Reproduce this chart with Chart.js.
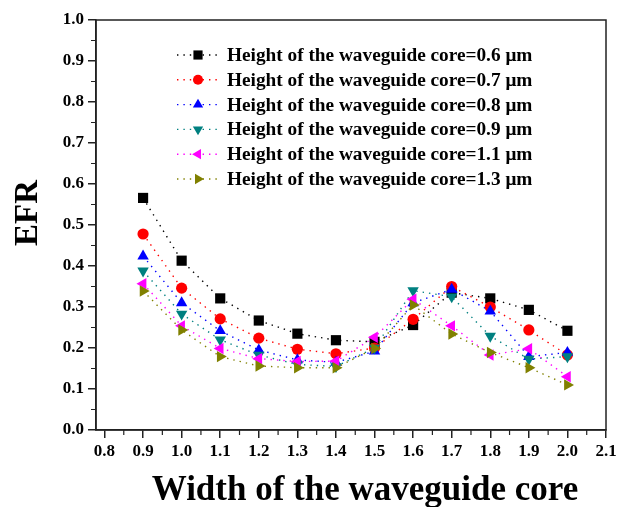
<!DOCTYPE html>
<html>
<head>
<meta charset="utf-8">
<script src="https://cdn.jsdelivr.net/npm/chart.js@4"></script>
<style>
  html, body { margin: 0; padding: 0; background: #fff; }
  #wrap { width: 622px; height: 507px; }
</style>
</head>
<body>
<div id="wrap"><canvas id="efrChart" width="622" height="507"></canvas></div>
<script>
// waveguide core width (x)
const widths = [0.9, 1.0, 1.1, 1.2, 1.3, 1.4, 1.5, 1.6, 1.7, 1.8, 1.9, 2.0];

// EFR for each core height
const h06 = [0.566, 0.413, 0.321, 0.267, 0.235, 0.219, 0.215, 0.256, 0.335, 0.321, 0.293, 0.242];
const h07 = [0.478, 0.346, 0.271, 0.224, 0.197, 0.186, 0.200, 0.270, 0.350, 0.300, 0.244, 0.183];
const h08 = [0.424, 0.310, 0.242, 0.195, 0.171, 0.165, 0.192, 0.310, 0.343, 0.290, 0.179, 0.189];
const h09 = [0.388, 0.283, 0.220, 0.183, 0.160, 0.155, 0.200, 0.340, 0.325, 0.229, 0.173, 0.179];
const h11 = [0.357, 0.254, 0.199, 0.174, 0.167, 0.168, 0.226, 0.319, 0.254, 0.183, 0.198, 0.130];
const h13 = [0.339, 0.244, 0.179, 0.156, 0.152, 0.152, 0.199, 0.305, 0.234, 0.189, 0.152, 0.110];

const seriesLabels = [
  'Height of the waveguide core=0.6 \u03bcm',
  'Height of the waveguide core=0.7 \u03bcm',
  'Height of the waveguide core=0.8 \u03bcm',
  'Height of the waveguide core=0.9 \u03bcm',
  'Height of the waveguide core=1.1 \u03bcm',
  'Height of the waveguide core=1.3 \u03bcm'
];

const xTicks = [0.8, 0.9, 1.0, 1.1, 1.2, 1.3, 1.4, 1.5, 1.6, 1.7, 1.8, 1.9, 2.0, 2.1];
const yTicks = [0.0, 0.1, 0.2, 0.3, 0.4, 0.5, 0.6, 0.7, 0.8, 0.9, 1.0];

const xTitle = 'Width of the waveguide core';
const yTitle = 'EFR';

const serif = '"Liberation Serif", "Times New Roman", serif';

// marker look per series
const styles = [
  { color: '#000000', shape: 'rect',     rot: 0,   r: 7.2 },
  { color: '#ff0000', shape: 'circle',   rot: 0,   r: 5.6 },
  { color: '#0000ff', shape: 'triangle', rot: 0,   r: 6.6 },
  { color: '#008080', shape: 'triangle', rot: 180, r: 6.6 },
  { color: '#ff00ff', shape: 'triangle', rot: 270, r: 6.6 },
  { color: '#808000', shape: 'triangle', rot: 90,  r: 6.6 }
];

const allSeries = [h06, h07, h08, h09, h11, h13];

const datasets = allSeries.map((vals, i) => ({
  label: seriesLabels[i],
  data: widths.map((w, j) => ({ x: w, y: vals[j] })),
  borderColor: styles[i].color,
  backgroundColor: styles[i].color,
  borderWidth: 1.4,
  borderDash: [1.4, 5],
  pointStyle: styles[i].shape,
  pointRotation: styles[i].rot,
  pointRadius: styles[i].r,
  pointBorderWidth: 0,
  tension: 0,
  order: -i   // later series drawn on top
}));

// box frame, minor ticks and the two axis titles
const framePlugin = {
  id: 'frame',
  afterDraw(chart) {
    const { ctx, chartArea: a, scales: { x, y } } = chart;
    ctx.save();
    ctx.strokeStyle = '#222';
    ctx.lineWidth = 1.5;
    ctx.strokeRect(a.left, a.top, a.right - a.left, a.bottom - a.top);

    ctx.lineWidth = 1.2;
    ctx.beginPath();
    for (let i = 0; i < xTicks.length - 1; i++) {
      const px = x.getPixelForValue((xTicks[i] + xTicks[i + 1]) / 2);
      ctx.moveTo(px, a.bottom);
      ctx.lineTo(px, a.bottom + 5);
    }
    for (let i = 0; i < yTicks.length - 1; i++) {
      const py = y.getPixelForValue((yTicks[i] + yTicks[i + 1]) / 2);
      ctx.moveTo(a.left, py);
      ctx.lineTo(a.left - 5, py);
    }
    ctx.stroke();

    ctx.fillStyle = '#000';
    ctx.textAlign = 'center';
    ctx.textBaseline = 'middle';
    ctx.font = 'bold 35px ' + serif;
    ctx.fillText(xTitle, 365, 491);

    ctx.translate(28, 213);
    ctx.rotate(-Math.PI / 2);
    ctx.font = 'bold 33px ' + serif;
    ctx.fillText(yTitle, 0, 0);
    ctx.restore();
  }
};

// legend drawn inside the plot, dotted sample with marker in the middle
const legendPlugin = {
  id: 'innerLegend',
  afterDatasetsDraw(chart) {
    const ctx = chart.ctx;
    const x0 = 177, x1 = 221, mx = 198, tx = 227;
    const top = 55, step = 24.8;
    ctx.save();
    chart.data.datasets.forEach((ds, i) => {
      const yy = top + i * step;
      ctx.strokeStyle = ds.borderColor;
      ctx.lineWidth = 1.4;
      ctx.setLineDash([1.4, 5]);
      ctx.beginPath();
      ctx.moveTo(x0, yy);
      ctx.lineTo(x1, yy);
      ctx.stroke();
      ctx.setLineDash([]);
      ctx.fillStyle = ds.backgroundColor;
      Chart.helpers.drawPoint(ctx, {
        pointStyle: ds.pointStyle,
        rotation: ds.pointRotation,
        radius: ds.pointRadius * 0.9,
        borderWidth: 0
      }, mx, yy);
      ctx.fillStyle = '#000';
      ctx.font = 'bold 19.3px ' + serif;
      ctx.textBaseline = 'middle';
      ctx.textAlign = 'left';
      ctx.fillText(ds.label, tx, yy + 1);
    });
    ctx.restore();
  }
};

new Chart(document.getElementById('efrChart'), {
  type: 'line',
  data: { datasets: datasets },
  options: {
    responsive: false,
    animation: false,
    layout: { padding: { top: 20, right: 16, left: 0, bottom: 0 } },
    plugins: { legend: { display: false }, tooltip: { enabled: false } },
    scales: {
      x: {
        type: 'linear',
        min: 0.778,
        max: 2.1,
        afterBuildTicks: s => { s.ticks = xTicks.map(v => ({ value: v })); },
        afterFit: s => { s.height = 77; },
        grid: { drawOnChartArea: false, drawTicks: true, tickLength: 8, color: '#222', lineWidth: 1.5 },
        border: { display: true, color: '#222', width: 1.5 },
        ticks: {
          color: '#000',
          padding: 3,
          maxRotation: 0,
          autoSkip: false,
          font: { family: serif, size: 17, weight: 'bold' },
          callback: v => v.toFixed(1)
        }
      },
      y: {
        min: 0,
        max: 1,
        afterBuildTicks: s => { s.ticks = yTicks.map(v => ({ value: v })); },
        afterFit: s => { s.width = 96; },
        grid: { drawOnChartArea: false, drawTicks: true, tickLength: 8, color: '#222', lineWidth: 1.5 },
        border: { display: true, color: '#222', width: 1.5 },
        ticks: {
          color: '#000',
          padding: 4,
          font: { family: serif, size: 17, weight: 'bold' },
          callback: v => v.toFixed(1)
        }
      }
    }
  },
  plugins: [framePlugin, legendPlugin]
});
</script>
</body>
</html>
